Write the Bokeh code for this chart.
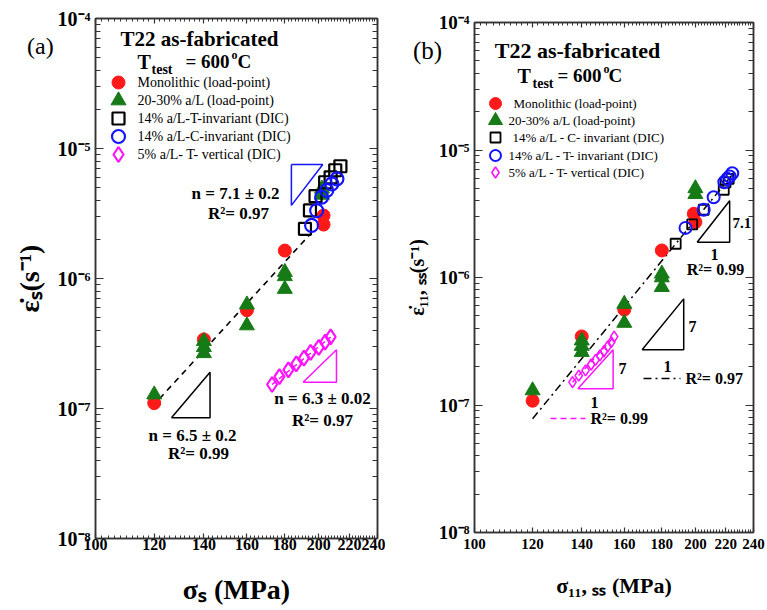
import math
from bokeh.plotting import figure
from bokeh.models import FixedTicker, LogAxis, CustomJSTickFormatter, Label, Div
from bokeh.embed import file_html
from bokeh.resources import INLINE

FONT = "Liberation Serif"
RED = "#ff1a1a"
GREEN = "#167a16"
BLUE = "#1414ff"
MAG = "#ff14ff"
BLK = "#000000"
AX = "#333333"

# ---------------- ticks ----------------
X_TICKS = [100, 120, 140, 160, 180, 200, 220, 240]
X_MINOR = [v for v in range(100, 241, 2) if v not in X_TICKS]
Y_TICKS = [1e-8, 1e-7, 1e-6, 1e-5, 1e-4]
Y_MINOR = [m * 10.0 ** e for e in range(-8, -4) for m in range(2, 10)]

# ---------------- panel (a) data ----------------
a_mono_x = [120, 140, 160, 180, 203, 203]
a_mono_y = [1.1e-7, 3.4e-7, 5.7e-7, 1.64e-6, 3.05e-6, 2.6e-6]
a_crack_x = [120, 140, 140, 140, 160, 160, 180, 180, 180, 202, 202]
a_crack_y = [1.28e-7, 3.3e-7, 2.96e-7, 2.66e-7, 6.3e-7, 4.35e-7, 1.12e-6, 1.04e-6, 8.3e-7, 4.9e-6, 4.4e-6]
a_tinv_x = [191.6, 194.6, 198.0, 204.0, 207.5, 210.5, 213.9]
a_tinv_y = [2.41e-6, 3.34e-6, 4.3e-6, 5.5e-6, 6.0e-6, 6.8e-6, 7.3e-6]
a_cinv_x = [195.6, 198.7, 201.8, 205.0, 208.3, 211.6]
a_cinv_y = [2.56e-6, 3.33e-6, 4.22e-6, 4.76e-6, 5.35e-6, 5.84e-6]
a_vert_x = [173, 177, 182, 186.5, 191, 195, 200, 204, 207.5]
a_vert_y = [1.53e-7, 1.76e-7, 1.98e-7, 2.2e-7, 2.44e-7, 2.7e-7, 2.95e-7, 3.24e-7, 3.55e-7]
a_fit_x = [122, 194]
a_fit_y = [1.19e-7, 2.14e-6]
a_vfit_x = [173, 207.5]
a_vfit_y = [1.53e-7, 3.55e-7]
a_tri_black_x = [126.6, 142.7, 142.7, 126.6]
a_tri_black_y = [8.5e-8, 8.5e-8, 1.9e-7, 8.5e-8]
a_tri_blue_x = [183.7, 202.5, 183.7, 183.7]
a_tri_blue_y = [7.53e-6, 7.53e-6, 3.65e-6, 7.53e-6]
a_tri_mag_x = [190.5, 211.3, 211.3, 190.5]
a_tri_mag_y = [1.59e-7, 1.59e-7, 2.83e-7, 1.59e-7]

# ---------------- panel (b) data ----------------
b_mono_x = [120, 140, 160, 180, 199, 200]
b_mono_y = [1.08e-7, 3.45e-7, 5.6e-7, 1.63e-6, 3.16e-6, 2.72e-6]
b_crack_x = [120, 140, 140, 140, 160, 160, 180, 180, 180, 200, 200]
b_crack_y = [1.3e-7, 3.2e-7, 2.9e-7, 2.6e-7, 6.2e-7, 4.4e-7, 1.07e-6, 1.0e-6, 8.4e-7, 5.0e-6, 4.5e-6]
b_cinv_x = [188, 198, 205.3, 218.6, 219.8, 222]
b_cinv_y = [1.84e-6, 2.61e-6, 3.4e-6, 4.88e-6, 5.58e-6, 5.94e-6]
b_tinv_x = [193.9, 205.3, 211.8, 219, 221, 222.7, 224.5]
b_tinv_y = [2.45e-6, 3.4e-6, 4.26e-6, 5.58e-6, 5.94e-6, 6.2e-6, 6.58e-6]
b_vert_x = [136, 138.7, 141.7, 144.2, 146.2, 148.2, 150.1, 151.9, 153.6, 155]
b_vert_y = [1.51e-7, 1.7e-7, 1.87e-7, 2.08e-7, 2.26e-7, 2.45e-7, 2.64e-7, 2.88e-7, 3.11e-7, 3.44e-7]
b_fit_x = [120, 226]
b_fit_y = [7.8e-8, 6.7e-6]
b_vfit_x = [136, 155]
b_vfit_y = [1.51e-7, 3.44e-7]
b_tri_up_x = [201.1, 222.7, 222.7, 201.1]
b_tri_up_y = [1.89e-6, 1.89e-6, 4.0e-6, 1.89e-6]
b_tri_mid_x = [169.2, 192.8, 192.8, 169.2]
b_tri_mid_y = [2.71e-7, 2.71e-7, 6.8e-7, 2.71e-7]
b_tri_mag_x = [138.3, 154.5, 154.5, 138.3]
b_tri_mag_y = [1.34e-7, 1.34e-7, 2.71e-7, 1.34e-7]

LEGEND_A = ["Monolithic (load-point)", "20-30% a/L (load-point)",
            "14% a/L-T-invariant (DIC)", "14% a/L-C-invariant (DIC)",
            "5% a/L- T- vertical (DIC)"]
LEGEND_B = ["Monolithic (load-point)", "20-30% a/L (load-point)",
            "14% a/L - C- invariant (DIC)", "14% a/L - T- invariant (DIC)",
            "5% a/L - T- vertical (DIC)"]

YFMT = """
const e = Math.round(Math.log10(tick));
const sup = {"-":"\u207b","0":"\u2070","1":"\u00b9","2":"\u00b2","3":"\u00b3","4":"\u2074",
             "5":"\u2075","6":"\u2076","7":"\u2077","8":"\u2078","9":"\u2079"};
return "10" + String(e).split("").map(c => sup[c]).join("");
"""


def style_axis(ax, tick_len=7, minor_len=4):
    ax.axis_line_color = AX
    ax.axis_line_width = 1.5
    ax.major_tick_line_color = AX
    ax.minor_tick_line_color = AX
    ax.major_tick_line_width = 1.2
    ax.major_tick_in = tick_len
    ax.major_tick_out = 0
    ax.minor_tick_in = minor_len
    ax.minor_tick_out = 0


def make_fig(F, borders, xfs, yfs, xlabel, ylabel, xlfs, ylfs, xstand, ystand, xlstand, ylstand, left_px):
    fl, ft, fw, fh = F
    left, right, top, bottom = borders
    p = figure(x_axis_type="log", y_axis_type="log", x_range=(100, 240), y_range=(1e-8, 1e-4),
               frame_width=fw, frame_height=fh, min_border_left=left, min_border_right=right,
               min_border_top=top, min_border_bottom=bottom, output_backend="svg",
               toolbar_location=None, background_fill_color="white", border_fill_color="white",
               styles={"position": "absolute", "left": f"{left_px}px", "top": "0px"})
    p.grid.visible = False
    p.outline_line_color = AX
    p.outline_line_width = 1.5
    xa = p.xaxis[0]
    xa.ticker = FixedTicker(ticks=X_TICKS, minor_ticks=X_MINOR)
    xa.formatter = CustomJSTickFormatter(code="return tick.toFixed(0);")
    xa.major_label_text_font = FONT
    xa.major_label_text_font_style = "bold"
    xa.major_label_text_font_size = xfs
    xa.major_label_text_color = "black"
    xa.major_label_standoff = xstand
    xa.axis_label = xlabel
    xa.axis_label_text_font = FONT
    xa.axis_label_text_font_style = "bold"
    xa.axis_label_text_font_size = xlfs
    xa.axis_label_text_color = "black"
    xa.axis_label_standoff = xlstand
    style_axis(xa, 5, 3)
    ya = p.yaxis[0]
    ya.ticker = FixedTicker(ticks=Y_TICKS, minor_ticks=Y_MINOR)
    ya.formatter = CustomJSTickFormatter(code=YFMT)
    ya.major_label_text_font = FONT
    ya.major_label_text_font_style = "bold"
    ya.major_label_text_font_size = yfs
    ya.major_label_text_color = "black"
    ya.major_label_standoff = ystand
    ya.axis_label = ylabel
    ya.axis_label_text_font = FONT
    ya.axis_label_text_font_style = "bold"
    ya.axis_label_text_font_size = ylfs
    ya.axis_label_text_color = "black"
    ya.axis_label_standoff = ylstand
    style_axis(ya, 8, 5)
    ra = LogAxis(ticker=FixedTicker(ticks=Y_TICKS, minor_ticks=Y_MINOR),
                 formatter=CustomJSTickFormatter(code="return '';"),
                 major_label_standoff=0, major_label_text_font_size="0px")
    style_axis(ra, 8, 5)
    p.add_layout(ra, "right")
    ta = LogAxis(ticker=FixedTicker(ticks=X_TICKS, minor_ticks=X_MINOR),
                 formatter=CustomJSTickFormatter(code="return '';"),
                 major_label_standoff=0, major_label_text_font_size="0px")
    style_axis(ta, 5, 3)
    p.add_layout(ta, "above")
    return p


def to_data(px, py, F):
    fl, ft, fw, fh = F
    x = 100 * 2.4 ** ((px - fl) / fw)
    y = 1e-4 * 10 ** (-4 * (py - ft) / fh)
    return x, y


def label(p, F, px, py, text, size, bold=True, align="left", color="black"):
    x, y = to_data(px, py, F)
    p.add_layout(Label(x=x, y=y, text=text, text_font=FONT, text_font_size=f"{size}px",
                       text_font_style="bold" if bold else "normal", text_align=align,
                       text_baseline="middle", text_color=color))


def poly(p, xs, ys, color, width=1.5, dash="solid"):
    p.line(xs, ys, line_color=color, line_width=width, line_dash=dash)


def marker(p, F, px, py, kind, size, fill, line, lw):
    x, y = to_data(px, py, F)
    p.scatter([x], [y], marker=kind, size=size, fill_color=fill, line_color=line, line_width=lw)


def panel_tag(text, left, top, size):
    return Div(text=text, styles={"position": "absolute", "left": f"{left}px", "top": f"{top}px",
                                  "font-family": FONT, "font-size": f"{size}px", "z-index": "10",
                                  "color": "black"})


# ======================= panel (a) =======================
FA = (95, 18, 282, 520)
pa = make_fig(FA, (95, 8, 18, 72), "16px", "20px", "\u03c3\u209b (MPa)", "\u03b5\u0307\u209b(s\u207b\u00b9)",
              "28px", "28px", 0, 5, 21, 10, 0)

poly(pa, a_fit_x, a_fit_y, BLK, 1.6, "6 5")
poly(pa, a_vfit_x, a_vfit_y, MAG, 1.5, "5 4")
poly(pa, a_tri_black_x, a_tri_black_y, BLK, 1.5)
poly(pa, a_tri_blue_x, a_tri_blue_y, BLUE, 1.5)
poly(pa, a_tri_mag_x, a_tri_mag_y, MAG, 1.5)
pa.scatter(a_mono_x, a_mono_y, marker="circle", size=13, fill_color=RED, line_color=RED)
pa.scatter(a_crack_x, a_crack_y, marker="triangle", size=15, fill_color=GREEN, line_color=GREEN)
pa.scatter(a_tinv_x, a_tinv_y, marker="square", size=12, fill_color=None, line_color=BLK, line_width=2.2)
pa.scatter(a_cinv_x, a_cinv_y, marker="circle", size=13, fill_color=None,
           line_color=BLUE, line_width=2.2)
pa.scatter(a_vert_x, a_vert_y, marker="diamond", size=15, fill_color=None, line_color=MAG, line_width=2.2)

rows_a = [82, 100, 118, 136, 154]
marker(pa, FA, 118, rows_a[0], "circle", 13, RED, RED, 1)
marker(pa, FA, 118, rows_a[1], "triangle", 15, GREEN, GREEN, 1)
marker(pa, FA, 118, rows_a[2], "square", 12, None, BLK, 2.2)
marker(pa, FA, 118, rows_a[3], "circle", 13, None, BLUE, 2.2)
marker(pa, FA, 118, rows_a[4], "diamond", 15, None, MAG, 2.2)
for t, ry in zip(LEGEND_A, rows_a):
    label(pa, FA, 137, ry, t, 14, bold=False)

label(pa, FA, 199, 38, "T22 as-fabricated", 21, align="center")
label(pa, FA, 137, 61, "T", 20)
label(pa, FA, 151, 69, "test", 14)
label(pa, FA, 185, 61, "= 600", 19)
label(pa, FA, 231, 54, "o", 12)
label(pa, FA, 237, 61, "C", 19)

label(pa, FA, 235, 193, "n = 7.1 \u00b1 0.2", 17, align="center")
label(pa, FA, 238, 213, "R\u00b2= 0.97", 17, align="center")
label(pa, FA, 192, 435, "n = 6.5 \u00b1 0.2", 17, align="center")
label(pa, FA, 198, 453, "R\u00b2= 0.99", 17, align="center")
label(pa, FA, 322, 398, "n = 6.3 \u00b1 0.02", 17, align="center")
label(pa, FA, 322, 420, "R\u00b2= 0.97", 17, align="center")

# ======================= panel (b) =======================
FB = (474, 22, 279, 510)
pb = make_fig(FB, (89, 14, 22, 78), "15px", "19px", "\u03c3\u2081\u2081, \u209b\u209b (MPa)",
              "\u03b5\u0307\u2081\u2081, \u209b\u209b(s\u207b\u00b9)", "22px", "20px", 6, 5, 21, 8, 385)

poly(pb, b_fit_x, b_fit_y, BLK, 1.5, "8 4 2 4")
poly(pb, b_vfit_x, b_vfit_y, MAG, 1.5, "5 4")
poly(pb, b_tri_up_x, b_tri_up_y, BLK, 1.5)
poly(pb, b_tri_mid_x, b_tri_mid_y, BLK, 1.5)
poly(pb, b_tri_mag_x, b_tri_mag_y, MAG, 1.5)
pb.scatter(b_mono_x, b_mono_y, marker="circle", size=13, fill_color=RED, line_color=RED)
pb.scatter(b_crack_x, b_crack_y, marker="triangle", size=15, fill_color=GREEN, line_color=GREEN)
pb.scatter(b_cinv_x, b_cinv_y, marker="square", size=10, fill_color=None, line_color=BLK, line_width=1.8)
pb.scatter(b_tinv_x, b_tinv_y, marker="circle", size=12, fill_color=None, line_color=BLUE, line_width=2)
pb.scatter(b_vert_x, b_vert_y, marker="diamond", size=11, fill_color=None, line_color=MAG, line_width=1.6)

rows_b = [103, 120, 137, 155, 172]
marker(pb, FB, 495, rows_b[0], "circle", 12, RED, RED, 1)
marker(pb, FB, 495, rows_b[1], "triangle", 14, GREEN, GREEN, 1)
marker(pb, FB, 495, rows_b[2], "square", 10, None, BLK, 1.8)
marker(pb, FB, 495, rows_b[3], "circle", 11, None, BLUE, 2)
marker(pb, FB, 495, rows_b[4], "diamond", 11, None, MAG, 1.6)
for t, ry, lx in zip(LEGEND_B, rows_b, [513, 508, 512, 508, 508]):
    label(pb, FB, lx, ry, t, 13, bold=False)

label(pb, FB, 577, 50, "T22 as-fabricated", 22, align="center")
label(pb, FB, 517, 75, "T", 20)
label(pb, FB, 532, 83, "test", 14)
label(pb, FB, 557, 75, "= 600", 19)
label(pb, FB, 603, 68, "o", 12)
label(pb, FB, 608, 75, "C", 19)

label(pb, FB, 732, 222, "7.1", 15)
label(pb, FB, 714, 254, "1", 16, align="center")
label(pb, FB, 715, 269, "R\u00b2= 0.99", 16, align="center")
label(pb, FB, 692, 326, "7", 16, align="center")
label(pb, FB, 667, 366, "1", 16, align="center")
label(pb, FB, 685, 378, "R\u00b2= 0.97", 16)
label(pb, FB, 622, 368, "7", 16, align="center")
label(pb, FB, 594, 402, "1", 16, align="center")
label(pb, FB, 590, 418, "R\u00b2= 0.99", 16)
k1 = [to_data(643, 378, FB), to_data(680, 378, FB)]
pb.line([k1[0][0], k1[1][0]], [k1[0][1], k1[1][1]], line_color=BLK, line_width=1.5, line_dash="8 4 2 4")
k2 = [to_data(550, 418, FB), to_data(585, 418, FB)]
pb.line([k2[0][0], k2[1][0]], [k2[0][1], k2[1][1]], line_color=MAG, line_width=1.5, line_dash="6 4")

tag_a = panel_tag("(a)", 22, 24, 24)
tag_b = panel_tag("(b)", 408, 28, 25)

open("out.html", "w").write(file_html([pa, pb, tag_a, tag_b], INLINE))
